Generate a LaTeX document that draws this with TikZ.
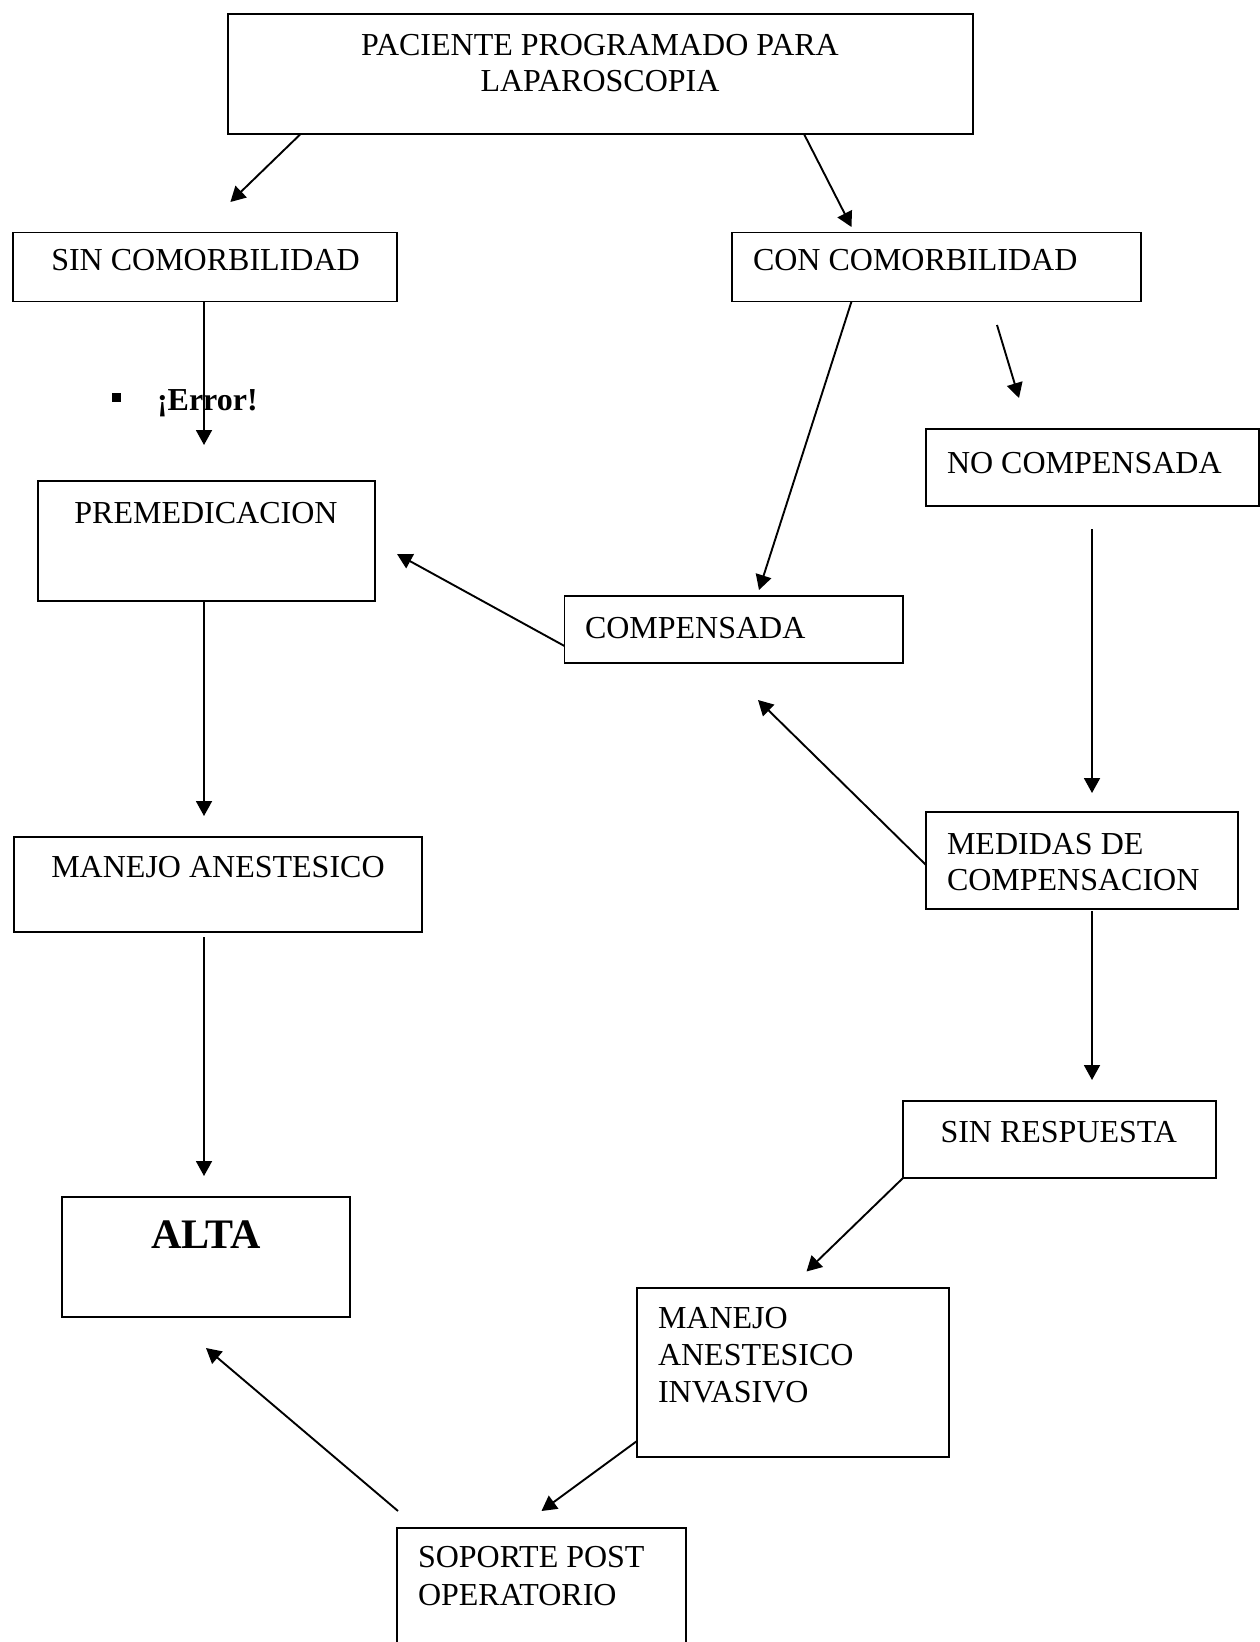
\documentclass[tikz,border=0pt]{standalone}
\usepackage{fontspec}
\setmainfont{Liberation Serif}
\usetikzlibrary{calc,arrows.meta}
\begin{document}
\begin{tikzpicture}[x=1pt,y=-1pt,
  box/.style={draw,line width=1.8pt,inner sep=0pt,outer sep=0pt,anchor=north west},
  txt/.style={inner sep=0pt,outer sep=0pt,anchor=base west,font=\fontsize{32}{37}\selectfont},
  ctxt/.style={txt,anchor=base},
  conn/.style={line width=1.9pt,-{Triangle[length=15pt,width=16pt]}}]
\useasboundingbox (0,0) rectangle (1260,1642);
% boxes
\node[box,minimum width=745pt,minimum height=120pt] (top) at (228,14) {};
\node[box,minimum width=384.4pt,minimum height=69pt] (sin) at (12.6,232.5) {};
\node[box,minimum width=409pt,minimum height=69pt] (con) at (732,232.5) {};
\node[box,minimum width=333pt,minimum height=77pt] (nocomp) at (926,429) {};
\node[box,minimum width=337pt,minimum height=120pt] (premed) at (37.7,481) {};
\node[box,minimum width=338.5pt,minimum height=67pt] (comp) at (564.5,596) {};
\node[box,minimum width=408.5pt,minimum height=95pt] (manejo) at (13.6,837) {};
\node[box,minimum width=312pt,minimum height=97pt] (medidas) at (926,812) {};
\node[box,minimum width=313pt,minimum height=77pt] (sinresp) at (903,1101) {};
\node[box,minimum width=288.3pt,minimum height=120pt] (alta) at (61.7,1196.7) {};
\node[box,minimum width=312pt,minimum height=169pt] (invasivo) at (637,1288) {};
\node[box,minimum width=288.4pt,minimum height=130pt] (soporte) at (397.3,1528.3) {};
% texts
\node[ctxt] (t1a) at (600,55) {PACIENTE PROGRAMADO PARA};
\node[ctxt] (t1b) at (600,91.5) {LAPAROSCOPIA};
\node[txt] (t2) at (51.3,270) {SIN COMORBILIDAD};
\node[txt] (t3) at (753,270) {CON COMORBILIDAD};
\node[txt] (t4) at (947,473) {NO COMPENSADA};
\node[ctxt] (t5) at (206,523) {PREMEDICACION};
\node[txt] (t6) at (585,638) {COMPENSADA};
\node[txt] (t7) at (51.3,877) {MANEJO ANESTESICO};
\node[txt] (t8a) at (947,854) {MEDIDAS DE};
\node[txt] (t8b) at (947,890.5) {COMPENSACION};
\node[txt] (t9) at (940.5,1142) {SIN RESPUESTA};
\node[ctxt,font=\fontsize{42}{48}\selectfont\bfseries] (t10) at (206,1248) {ALTA};
\node[txt] (t11a) at (658,1328) {MANEJO};
\node[txt] (t11b) at (658,1365) {ANESTESICO};
\node[txt] (t11c) at (658,1402) {INVASIVO};
\node[txt] (t12a) at (418,1567) {SOPORTE POST};
\node[txt] (t12b) at (418,1605) {OPERATORIO};
% error bullet
\node[fill,inner sep=0pt,outer sep=0pt,minimum size=9pt] (bul) at (116.2,397.5) {};
\node[txt,font=\fontsize{32}{37}\selectfont\bfseries] (err) at (157,410) {¡Error!};
% free coordinates
\coordinate (e1) at (230.4,202);
\coordinate (e2) at (851.5,227);
\coordinate (e3) at (204,445);
\coordinate (e4) at (759,590);
\coordinate (s5) at (997,325);
\coordinate (e5) at (1019,398);
\coordinate (s6) at (1092,529);
\coordinate (e6) at (1092,793);
\coordinate (e7) at (397,554);
\coordinate (e8) at (204,816);
\coordinate (e9) at (758,700);
\coordinate (e10) at (1092,1080);
\coordinate (s11) at (204,937);
\coordinate (e11) at (204,1176);
\coordinate (e12) at (806.5,1271.5);
\coordinate (e13) at (541.5,1511);
\coordinate (s14) at (398,1511);
\coordinate (e14) at (206,1348);
% connectors
\draw[conn] ($(top.south west)+(72.6,0)$) -- (e1);
\draw[conn] ($(top.south west)+(576,0)$) -- (e2);
\draw[conn] ($(sin.south west)+(191.4,0)$) -- (e3);
\draw[conn] ($(con.south west)+(119.5,0)$) -- (e4);
\draw[conn] (s5) -- (e5);
\draw[conn] (s6) -- (e6);
\draw[conn] ($(comp.north west)+(0,50)$) -- (e7);
\draw[conn] ($(premed.south west)+(166.3,0)$) -- (e8);
\draw[conn] ($(medidas.north west)+(0,53)$) -- (e9);
\draw[conn] ($(medidas.south west)+(166,2)$) -- (e10);
\draw[conn] (s11) -- (e11);
\draw[conn] (sinresp.south west) -- (e12);
\draw[conn] ($(invasivo.north west)+(0,153)$) -- (e13);
\draw[conn] (s14) -- (e14);
\end{tikzpicture}
\end{document}
